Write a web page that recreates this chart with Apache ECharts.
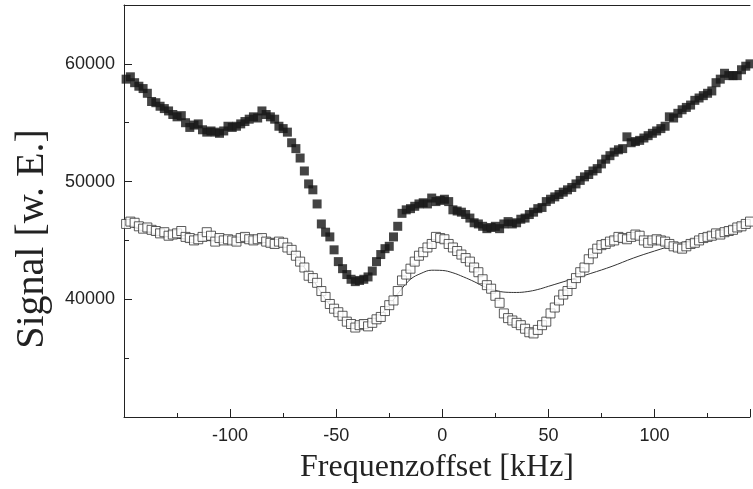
<!DOCTYPE html>
<html>
<head>
<meta charset="utf-8">
<script src="https://cdn.jsdelivr.net/npm/echarts@6/dist/echarts.min.js"></script>
<style>
  html, body { margin: 0; padding: 0; background: #fff; }
  #chart { width: 753px; height: 489px; }
</style>
</head>
<body>
<div id="chart"></div>
<script>
// frequency offsets (kHz) of the measured points
const offsets = [];
for (let f = -149; f <= 145; f += 2) offsets.push(f);

// filled squares
const signalFilled = [
  58700, 58900, 58400, 58100, 57900, 57500, 56800, 56700, 56400, 56200,
  56000, 55700, 55500, 55600, 55000, 54600, 54800, 54900, 54400, 54200,
  54300, 54200, 54100, 54300, 54700, 54600, 54700, 54900, 55100, 55300,
  55500, 55400, 56000, 55700, 55500, 55300, 54700, 54500, 54200, 53300,
  52800, 52000, 50900, 49800, 49300, 48100, 46400, 45700, 45300, 44200,
  43200, 42600, 42100, 41700, 41500, 41600, 41700, 41900, 42400, 43200,
  43800, 44300, 44500, 45300, 46200, 47300, 47600, 47700, 47900, 48100,
  48200, 48100, 48600, 48300, 48400, 48500, 48300, 47600, 47500, 47400,
  47200, 46900, 46500, 46400, 46200, 46000, 46100, 46200, 46000, 46400,
  46600, 46400, 46500, 46800, 46900, 47200, 47400, 47700, 47800, 48300,
  48500, 48700, 48900, 49100, 49300, 49500, 49800, 50100, 50400, 50600,
  50900, 51100, 51500, 51900, 52200, 52500, 52700, 52800, 53800, 53300,
  53400, 53500, 53700, 53900, 54100, 54300, 54500, 54700, 55500, 55400,
  55800, 56100, 56300, 56500, 56900, 57100, 57300, 57500, 57700, 58400,
  58700, 59200, 59000, 59000, 59000, 59500, 59800, 60000
];

// open squares
const signalOpen = [
  46400, 46600, 46500, 46200, 46000, 46100, 45900, 45800, 45600, 45700,
  45400, 45500, 45600, 45800, 45300, 45200, 45000, 45100, 45300, 45700,
  45400, 44900, 45200, 45000, 45100, 45000, 44900, 45200, 45300, 45100,
  45000, 45100, 45200, 44900, 44800, 44700, 44900, 44800, 44400, 44200,
  43700, 43200, 42700, 42000, 41800, 41400, 40700, 40200, 39600, 39200,
  38900, 38600, 38100, 37900, 37600, 37800, 37900, 37700, 38000, 38300,
  38500, 39000, 39500, 39900, 40700, 41600, 42100, 42600, 43200, 43700,
  44000, 44400, 44700, 45300, 45200, 45100, 44700, 44400, 44100, 43800,
  43500, 43200, 42700, 42300, 41700, 41200, 40900, 40300, 39700, 38800,
  38400, 38200, 38000, 37800, 37500, 37200, 37100, 37400, 37800, 38100,
  38800, 39300, 39900, 40400, 40700, 41300, 41800, 42300, 42700, 43400,
  43900, 44300, 44600, 44700, 44900, 45000, 45300, 45200, 45100, 45300,
  45500, 45400, 45000, 44800, 45000, 45100, 45000, 44900, 44700, 44500,
  44400, 44300, 44500, 44700, 44800, 45000, 45200, 45300, 45400, 45600,
  45500, 45700, 45800, 45900, 46100, 46200, 46400, 46600
];

// fit curve
const fitOffsets = [
  -150, -140, -130, -120, -110, -100, -90, -80, -75, -70, -65, -60, -55, -50,
  -45, -40, -35, -30, -25, -20, -15, -10, -5, 0, 5, 10, 15, 20, 25, 30, 35,
  40, 45, 50, 60, 70, 80, 90, 100, 110, 120, 130, 140, 145
];
const fitSignal = [
  46400, 45800, 45350, 45100, 44980, 44950, 45250, 45150, 44800, 44000, 42700,
  41400, 40000, 38900, 38100, 37750, 37900, 38550, 39500, 40700, 41700, 42200,
  42470, 42450, 42250, 41900, 41500, 41050, 40750, 40600, 40580, 40650, 40830,
  41100, 41650, 42200, 42800, 43500, 44100, 44650, 45150, 45600, 46100, 46380
];

const yLabels = [40000, 50000, 60000];
const xLabels = [-100, -50, 0, 50, 100];

const ink = '#222';
const chart = echarts.init(document.getElementById('chart'));

const pairs = (xs, ys) => xs.map((x, i) => [x, ys[i]]);

chart.setOption({
  animation: false,
  grid: { left: 124, right: 0, top: 5, bottom: 71 },
  // y title sits a bit below the axis centre in the original, so place it by hand
  graphic: [
    {
      type: 'text', x: 32, y: 239, rotation: Math.PI / 2,
      style: {
        text: 'Signal [w. E.]', fontFamily: 'Liberation Serif', fontSize: 40,
        fill: ink, align: 'center', verticalAlign: 'middle'
      }
    }
  ],
  xAxis: [
    {
      type: 'value', min: -150, max: 145, interval: 50,
      name: 'Frequenzoffset [kHz]', nameLocation: 'middle', nameGap: 35,
      nameTextStyle: { fontFamily: 'Liberation Serif', fontSize: 32, color: ink },
      axisLine: { onZero: false, lineStyle: { color: ink, width: 1 } },
      axisTick: { inside: true, length: 8, lineStyle: { color: ink } },
      axisLabel: {
        margin: 10, fontFamily: 'Liberation Sans', fontSize: 18, color: ink,
        formatter: v => (xLabels.includes(v) ? String(v) : '')
      },
      splitLine: { show: false }
    },
    {
      type: 'value', min: -150, max: 145, interval: 25, position: 'bottom',
      axisLine: { show: false, onZero: false },
      axisTick: { inside: true, length: 4, lineStyle: { color: ink } },
      axisLabel: { show: false },
      splitLine: { show: false }
    },
    {
      type: 'value', min: -150, max: 145, position: 'top',
      axisLine: { onZero: false, lineStyle: { color: ink, width: 1 } },
      axisTick: { show: false },
      axisLabel: { show: false },
      splitLine: { show: false }
    }
  ],
  yAxis: [
    {
      type: 'value', min: 30000, max: 65000, interval: 10000,
      axisLine: { show: true, onZero: false, lineStyle: { color: ink, width: 1 } },
      axisTick: { show: true, inside: true, length: 8, lineStyle: { color: ink } },
      axisLabel: {
        margin: 9, fontFamily: 'Liberation Sans', fontSize: 18, color: ink,
        formatter: v => (yLabels.includes(v) ? String(v) : '')
      },
      splitLine: { show: false }
    },
    {
      type: 'value', min: 30000, max: 65000, interval: 5000, position: 'left',
      axisLine: { show: false, onZero: false },
      axisTick: { show: true, inside: true, length: 5, lineStyle: { color: ink } },
      axisLabel: { show: false },
      splitLine: { show: false }
    }
  ],
  series: [
    {
      name: 'fit', type: 'line', smooth: 0.4, showSymbol: false,
      data: pairs(fitOffsets, fitSignal),
      lineStyle: { color: '#333', width: 1 }, z: 1
    },
    {
      name: 'open', type: 'scatter', symbol: 'rect', symbolSize: 9,
      data: pairs(offsets, signalOpen),
      itemStyle: { color: '#fff', borderColor: '#333', borderWidth: 1 }, z: 2
    },
    {
      name: 'filled', type: 'scatter', symbol: 'rect', symbolSize: 9,
      data: pairs(offsets, signalFilled),
      itemStyle: { color: '#151515' }, z: 3
    }
  ]
});
</script>
</body>
</html>
